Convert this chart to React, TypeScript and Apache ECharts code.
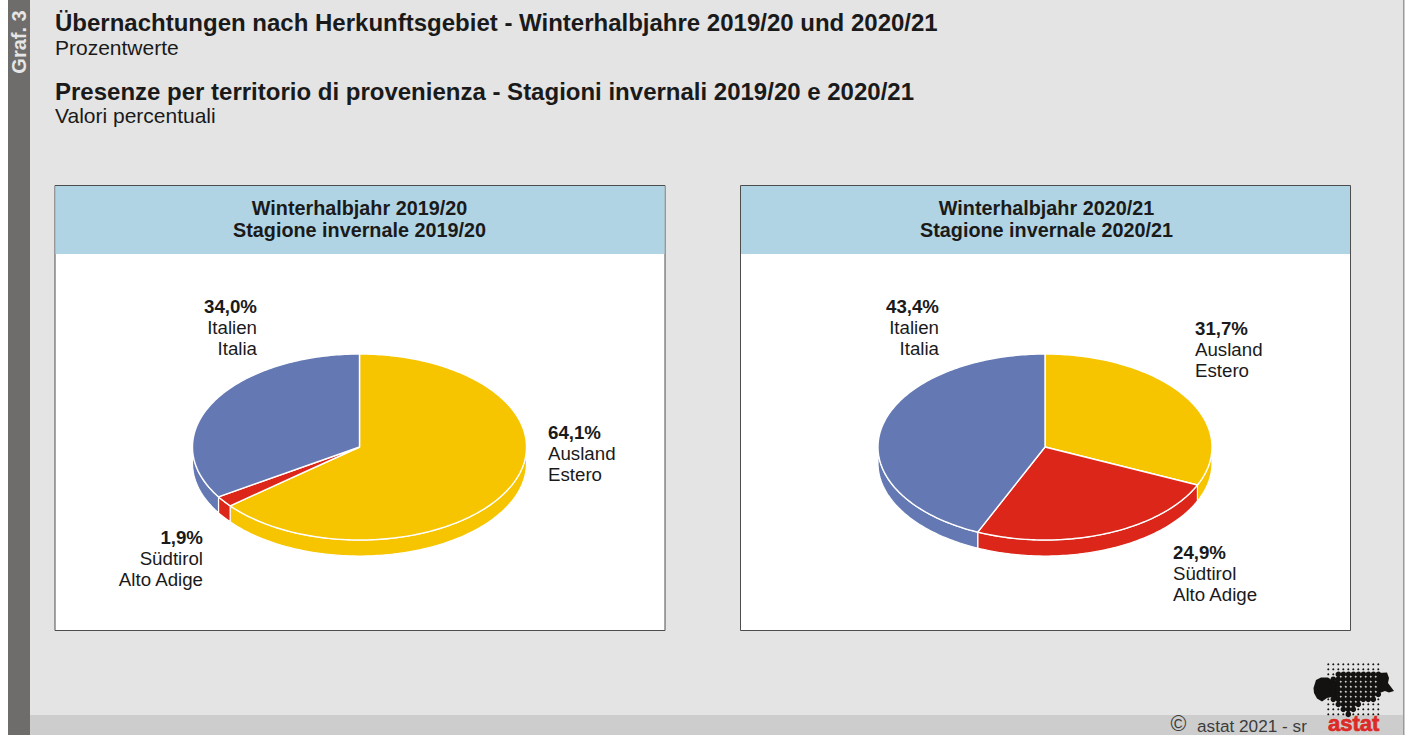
import React, { useEffect, useRef } from "react";
import * as echarts from "echarts";

const FONT = '"Liberation Sans", Arial, sans-serif';
const categories = ["Ausland / Estero", "Südtirol / Alto Adige", "Italien / Italia"];
const colors = ["#f6c500", "#dc2619", "#6479b4"];
const values1920 = [64.1, 1.9, 34.0];
const values2021 = [31.7, 24.9, 43.4];
const valueLabels1920 = ["64,1%", "1,9%", "34,0%"];
const valueLabels2021 = ["31,7%", "24,9%", "43,4%"];
const namesDe = ["Ausland", "Südtirol", "Italien"];
const namesIt = ["Estero", "Alto Adige", "Italia"];
const panelTitlesDe = ["Winterhalbjahr 2019/20", "Winterhalbjahr 2020/21"];
const panelTitlesIt = ["Stagione invernale 2019/20", "Stagione invernale 2020/21"];

const RX = 167, RY = 93, DEPTH = 16, CY = 447;
const LABEL = 18.7;
const rad = (d: number) => (d * Math.PI) / 180;

function arc(cx: number, cy: number, a0: number, a1: number) {
  const pts: number[][] = [];
  const n = Math.max(2, Math.ceil(Math.abs(a1 - a0)));
  for (let i = 0; i <= n; i++) {
    const a = rad(a0 + ((a1 - a0) * i) / n);
    pts.push([cx + RX * Math.sin(a), cy - RY * Math.cos(a)]);
  }
  return pts;
}

function pieSeries(name: string, cx: number, values: number[]) {
  const total = values.reduce((s, v) => s + v, 0);
  const renderItem = (params: any, api: any) => {
    const i = params.dataIndex;
    const start = (values.slice(0, i).reduce((s, v) => s + v, 0) / total) * 360;
    const end = start + (api.value(0) / total) * 360;
    const style = { fill: colors[i], stroke: "#ffffff", lineWidth: 1.4, lineJoin: "round" };
    const children: any[] = [];
    const s0 = Math.max(start, 90), s1 = Math.min(end, 270);
    if (s1 > s0) {
      children.push({
        type: "polygon",
        shape: { points: [...arc(cx, CY, s0, s1), ...arc(cx, CY + DEPTH, s1, s0)] },
        style: { ...style, lineWidth: 1.2 },
      });
    }
    children.push({
      type: "polygon",
      shape: { points: [[cx, CY], ...arc(cx, CY, start, end)] },
      style,
    });
    return { type: "group", children };
  };
  return {
    type: "custom",
    name,
    coordinateSystem: "none",
    silent: true,
    z: 5,
    data: values.map((v, i) => ({ name: categories[i], value: [v] })),
    renderItem,
  };
}

const text = (x: number, y: number, t: string, size: number, bold = false, align = "left", fill = "#1a1a1a", extra: any = {}, styleExtra: any = {}) => ({
  type: "text",
  z: 10,
  x,
  y,
  ...extra,
  style: { x: 0, y: 0, text: t, fill, font: `${bold ? "bold " : ""}${size}px ${FONT}`, align, verticalAlign: "middle", ...styleExtra },
});

function labelBlock(x: number, y: number, align: string, value: string, i: number) {
  return [
    text(x, y, value, LABEL, true, align),
    text(x, y + 21.3, namesDe[i], LABEL, false, align),
    text(x, y + 42.3, namesIt[i], LABEL, false, align),
  ];
}

// logo
const logoLeft = [
  [1313.5, 688], [1316, 680], [1321, 677.5], [1328, 677.5], [1333, 681], [1337, 680], [1337, 700],
  [1332, 697], [1327, 698], [1322, 701.5], [1317, 698.5], [1314, 693],
];
const logoRight = [
  [1378, 673], [1387, 672.5], [1389, 678], [1388, 683], [1394, 691], [1389, 692.5], [1385, 691], [1378, 693.5],
];
const logoSpans: number[][] = [[], [], [2, 10], [1, 10], [1, 10], [1, 10], [1, 10], [1, 9], [2, 6], [3, 5], [4, 4]];

function logoDots() {
  const out: any[] = [];
  for (let r = 0; r < 11; r++) {
    for (let c = 0; c < 11; c++) {
      const sp = logoSpans[r];
      const big = sp.length > 0 && c >= sp[0] && c <= sp[1];
      out.push({
        type: "circle",
        z: 9,
        shape: { cx: 1328.3 + c * 5, cy: 664.3 + r * 5, r: big ? 2.8 : 1.05 },
        style: { fill: "#141210" },
      });
    }
  }
  return out;
}

function panel(x: number, idx: number, mid: number) {
  const w = 610;
  return [
    { type: "rect", z: 1, shape: { x: x + 0.5, y: 185.5, width: w, height: 445 }, style: { fill: "#ffffff", stroke: "#4d4d4d", lineWidth: 1 } },
    { type: "rect", z: 2, shape: { x: x + 1, y: 186, width: w - 1, height: 68 }, style: { fill: "#b0d4e3" } },
    text(mid, 208, panelTitlesDe[idx], 19.8, true, "center"),
    text(mid, 230, panelTitlesIt[idx], 19.8, true, "center"),
  ];
}

export default function App() {
  const ref = useRef<HTMLDivElement>(null);
  useEffect(() => {
    document.body.style.margin = "0";
    const chart = echarts.init(ref.current!, undefined, { renderer: "svg" });
    chart.setOption({
      animation: false,
      backgroundColor: "#ffffff",
      series: [pieSeries("2019/20", 359.5, values1920), pieSeries("2020/21", 1045, values2021)],
      graphic: [
        { type: "rect", z: 0, shape: { x: 8, y: 0, width: 1396, height: 735 }, style: { fill: "#e4e4e4" } },
        { type: "rect", z: 0, shape: { x: 1403, y: 0, width: 1.5, height: 735 }, style: { fill: "#9c9a98" } },
        { type: "rect", z: 0, shape: { x: 30, y: 715, width: 1373, height: 20 }, style: { fill: "#cdcdcd" } },
        { type: "rect", z: 0, shape: { x: 8, y: 0, width: 22, height: 735 }, style: { fill: "#6f6d6b" } },
        text(18.5, 42, "Graf. 3", 20, true, "center", "#e6e6e6", { rotation: Math.PI / 2 }),
        text(55, 22, "Übernachtungen nach Herkunftsgebiet - Winterhalbjahre 2019/20 und 2020/21", 24, true),
        text(55, 47, "Prozentwerte", 21),
        text(55, 91, "Presenze per territorio di provenienza - Stagioni invernali 2019/20 e 2020/21", 24, true),
        text(55, 115, "Valori percentuali", 21),
        ...panel(54.5, 0, 359.5),
        ...panel(740, 1, 1046.5),
        ...labelBlock(548, 432.3, "left", valueLabels1920[0], 0),
        ...labelBlock(203, 537.3, "right", valueLabels1920[1], 1),
        ...labelBlock(257, 306.3, "right", valueLabels1920[2], 2),
        ...labelBlock(1195, 328.3, "left", valueLabels2021[0], 0),
        ...labelBlock(1173, 552.3, "left", valueLabels2021[1], 1),
        ...labelBlock(939, 306.3, "right", valueLabels2021[2], 2),
        { type: "polygon", z: 8, shape: { points: logoLeft }, style: { fill: "#141210" } },
        { type: "polygon", z: 8, shape: { points: logoRight }, style: { fill: "#141210" } },
        ...logoDots(),
        text(1178.5, 723.5, "©", 21.5, false, "center", "#3c3c3c"),
        text(1197, 725.5, "astat 2021 - sr", 17.2, false, "left", "#3c3c3c"),
        text(1328, 723, "astat", 22, true, "left", "#dc2a26", {}, { stroke: "#dc2a26", lineWidth: 0.7 }),
      ],
    });
    return () => chart.dispose();
  }, []);
  return <div ref={ref} style={{ width: 1407, height: 735 }} />;
}
